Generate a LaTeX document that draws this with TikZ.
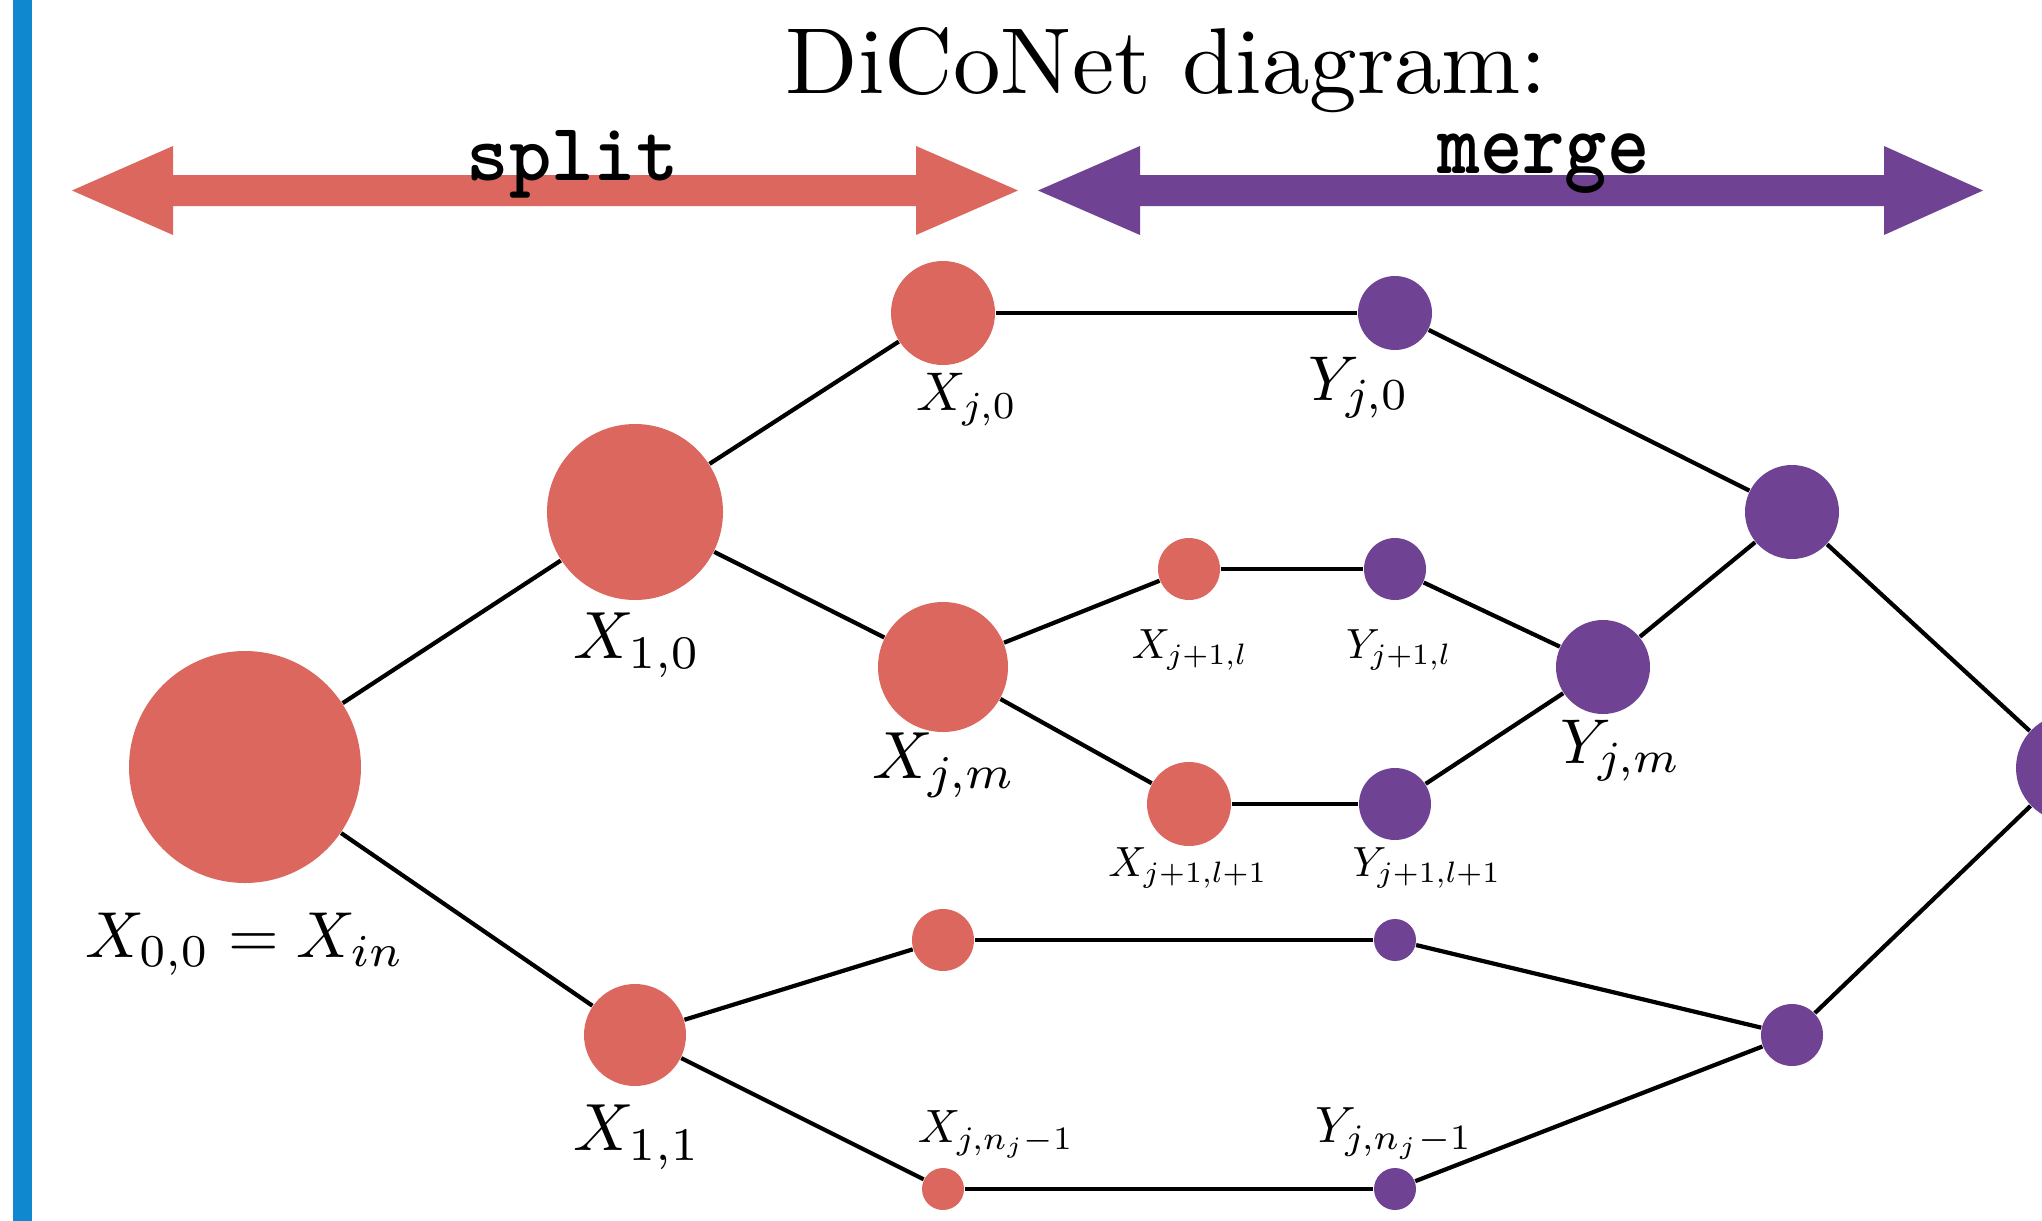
\documentclass[tikz,border=0pt]{standalone}
\usepackage{graphicx}
\definecolor{dred}{RGB}{219,103,94}
\definecolor{dpurple}{RGB}{111,66,148}
\definecolor{dblue}{RGB}{16,136,207}
\newcommand{\mylbl}[2]{\scalebox{#1}{$#2$}}
\tikzset{
  rn/.style={circle, fill=dred, draw=none, inner sep=0pt, minimum size=#1*0.01cm},
  pn/.style={circle, fill=dpurple, draw=none, inner sep=0pt, minimum size=#1*0.01cm},
  edge/.style={line width=1.2pt, black},
  lab/.style={anchor=base, inner sep=0pt}
}
\begin{document}
\begin{tikzpicture}[x=0.01cm, y=-0.01cm]
\useasboundingbox (0,0) rectangle (2042,1221);
\fill[white] (0,0) rectangle (2042,1221);
% left blue bar
\fill[dblue] (13,0) rectangle (32,1221);
% title
\node[anchor=base west, inner sep=0pt] (title) at (785,93) {\resizebox{7.61cm}{0.66cm}{DiCoNet diagram:}};
% arrows
\fill[dred] (72,190.5) -- (173,146) -- (173,175) -- (916,175) -- (916,146) -- (1018,190.5)
  -- (916,235) -- (916,206) -- (173,206) -- (173,235) -- cycle;
\fill[dpurple] (1038,190.5) -- (1140,146) -- (1140,175) -- (1884,175) -- (1884,146) -- (1983,190.5)
  -- (1884,235) -- (1884,206) -- (1140,206) -- (1140,235) -- cycle;
\node[anchor=base west, inner sep=0pt] (split) at (466,180) {\resizebox{2.12cm}{0.50cm}{\ttfamily\bfseries split}};
\node[anchor=base west, inner sep=0pt] (merge) at (1437,173) {\resizebox{2.12cm}{0.40cm}{\ttfamily\bfseries merge}};
% nodes
\node[rn=232] (X00) at (245,767) {};
\node[rn=176] (X10) at (635,512) {};
\node[rn=102] (X11) at (635,1035) {};
\node[rn=104] (Xj0) at (943,313) {};
\node[rn=130] (Xjm) at (943,667) {};
\node[rn=62]  (Xa)  at (943,940) {};
\node[rn=42]  (Xjn) at (943,1189) {};
\node[rn=62]  (Xl)  at (1189,569) {};
\node[rn=84]  (Xl1) at (1189,804) {};
\node[pn=74]  (Yj0) at (1395,313) {};
\node[pn=62]  (Yl)  at (1395,569) {};
\node[pn=72]  (Yl1) at (1395,804) {};
\node[pn=42]  (Ya)  at (1395,940) {};
\node[pn=42]  (Yjn) at (1395,1189) {};
\node[pn=94]  (Yjm) at (1603,667) {};
\node[pn=94]  (Mt)  at (1792,512) {};
\node[pn=62]  (Mb)  at (1792,1035) {};
\node[pn=108] (F)   at (2070,768) {};
% edges
\draw[edge] (X00) -- (X10);
\draw[edge] (X00) -- (X11);
\draw[edge] (X10) -- (Xj0);
\draw[edge] (X10) -- (Xjm);
\draw[edge] (X11) -- (Xa);
\draw[edge] (X11) -- (Xjn);
\draw[edge] (Xj0) -- (Yj0);
\draw[edge] (Xjm) -- (Xl);
\draw[edge] (Xjm) -- (Xl1);
\draw[edge] (Xl) -- (Yl);
\draw[edge] (Xl1) -- (Yl1);
\draw[edge] (Yl) -- (Yjm);
\draw[edge] (Yl1) -- (Yjm);
\draw[edge] (Xa) -- (Ya);
\draw[edge] (Xjn) -- (Yjn);
\draw[edge] (Yj0) -- (Mt);
\draw[edge] (Yjm) -- (Mt);
\draw[edge] (Ya) -- (Mb);
\draw[edge] (Yjn) -- (Mb);
\draw[edge] (Mt) -- (F);
\draw[edge] (Mb) -- (F);
% labels
\node[lab] (lX00) at (245,957) {\mylbl{1.85}{X_{0,0} = X_{in}}};
\node[lab] (lX10) at (637,658) {\mylbl{1.9}{X_{1,0}}};
\node[lab] (lX11) at (637,1150) {\mylbl{1.9}{X_{1,1}}};
\node[lab] (lXjm) at (944,778) {\mylbl{1.9}{X_{j,m}}};
\node[lab] (lXj0) at (967,410) {\mylbl{1.55}{X_{j,0}}};
\node[lab] (lYj0) at (1359,400) {\mylbl{1.8}{Y_{j,0}}};
\node[lab] (lYjm) at (1621,763) {\mylbl{1.8}{Y_{j,m}}};
\node[lab] (lXl) at (1190,658) {\mylbl{1.2}{X_{j+1,l}}};
\node[lab] (lYl) at (1399,658) {\mylbl{1.2}{Y_{j+1,l}}};
\node[lab] (lXl1) at (1188,876) {\mylbl{1.2}{X_{j+1,l+1}}};
\node[lab] (lYl1) at (1427,876) {\mylbl{1.2}{Y_{j+1,l+1}}};
\node[lab] (lXjn) at (996,1142) {\mylbl{1.33}{X_{j,n_j-1}}};
\node[lab] (lYjn) at (1394,1142) {\mylbl{1.45}{Y_{j,n_j-1}}};
\end{tikzpicture}
\end{document}
